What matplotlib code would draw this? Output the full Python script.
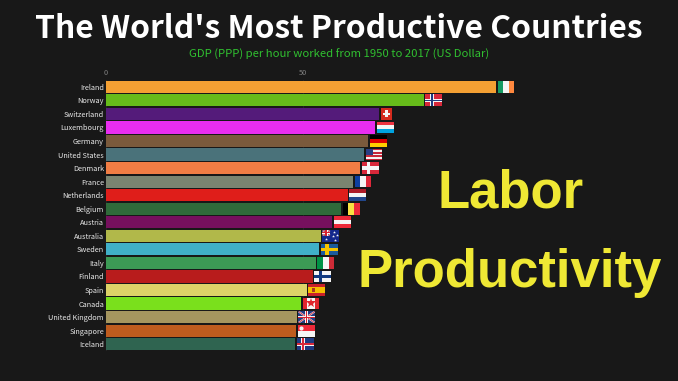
import numpy as np
import matplotlib
matplotlib.use('Agg')
import matplotlib.pyplot as plt
from matplotlib.patches import Rectangle, Polygon
from matplotlib.transforms import Affine2D

countries = ['Ireland', 'Norway', 'Switzerland', 'Luxembourg', 'Germany', 'United States',
             'Denmark', 'France', 'Netherlands', 'Belgium', 'Austria', 'Australia', 'Sweden',
             'Italy', 'Finland', 'Spain', 'Canada', 'United Kingdom', 'Singapore', 'Iceland']
values = [99.1, 80.8, 69.4, 68.4, 66.7, 65.6, 64.7, 62.8, 61.5, 59.8,
          57.5, 54.6, 54.2, 53.4, 52.6, 51.1, 49.6, 48.5, 48.4, 48.1]
colors = ['#F4A033', '#66BB1A', '#541B7A', '#E92DF0', '#7A5A3C', '#4A727A', '#F07D44',
          '#7A8470', '#DF1E1A', '#2F6B3A', '#76105E', '#B1B84A', '#40B0C8', '#3C9A55',
          '#B81C1C', '#DDD268', '#7AE01C', '#A5965F', '#BE5C1E', '#2F6450']
xticks = [0, 50]

BG = '#181818'
RED = '#D8202E'
BLUE = '#1F3A80'
WHITE = '#F5F5F5'
FONT = 'Noto Sans CJK SC'

# stripes of the simple flags: (h)orizontal or (v)ertical
stripes = {
    'Ireland': ('v', ['#169B62', WHITE, '#FF883E']),
    'Luxembourg': ('h', ['#EF3340', WHITE, '#00A3E0']),
    'Germany': ('h', ['#000000', '#DD0000', '#FFCE00']),
    'France': ('v', ['#0F3FA0', WHITE, '#E0283A']),
    'Netherlands': ('h', ['#AE1C28', WHITE, '#21468B']),
    'Belgium': ('v', ['#000000', '#FAE042', '#ED2939']),
    'Austria': ('h', ['#ED2939', WHITE, '#ED2939']),
    'Italy': ('v', ['#009246', WHITE, '#CE2B37']),
    'Singapore': ('h', ['#ED2939', WHITE]),
}
# nordic crosses: field, outer cross, inner cross
crosses = {
    'Norway': ('#D8283A', WHITE, '#1F3A80'),
    'Denmark': ('#D8283A', WHITE, WHITE),
    'Sweden': ('#1A5A9C', '#F5C400', '#F5C400'),
    'Finland': (WHITE, '#123A80', '#123A80'),
    'Iceland': ('#1F3A80', WHITE, '#D8283A'),
}


def union_jack(ax, tr, w=1.0, h=1.0):
    ax.add_patch(Rectangle((0, 0), w, h, fc=BLUE, ec='none', transform=tr, clip_on=False, zorder=3))
    for col, d in ((WHITE, 0.09), (RED, 0.04)):
        ax.add_patch(Polygon([(0, d), (d, 0), (w, h-d), (w-d, h)], fc=col, ec='none', transform=tr, clip_on=False, zorder=3))
        ax.add_patch(Polygon([(w-d, 0), (w, d), (d, h), (0, h-d)], fc=col, ec='none', transform=tr, clip_on=False, zorder=3))
    for col, t in ((WHITE, 0.17), (RED, 0.09)):
        ax.add_patch(Rectangle((w/2-t/2*h/w, 0), t*h/w, h, fc=col, ec='none', transform=tr, clip_on=False, zorder=3))
        ax.add_patch(Rectangle((0, h/2-t/2), w, t, fc=col, ec='none', transform=tr, clip_on=False, zorder=3))


def draw_flag(ax, name, x0, yc, w, h):
    tr = Affine2D().scale(w, h).translate(x0, yc-h/2) + ax.transData

    def rect(x, y, rw, rh, col):
        ax.add_patch(Rectangle((x, y), rw, rh, fc=col, ec='none', transform=tr, clip_on=False, zorder=3))

    if name in stripes:
        orient, cols = stripes[name]
        n = len(cols)
        for k, col in enumerate(cols):
            if orient == 'h':
                rect(0, k/n, 1, 1/n, col)
            else:
                rect(k/n, 0, 1/n, 1, col)
        if name == 'Singapore':
            ax.plot([0.22], [0.25], 'o', ms=2, color=WHITE, transform=tr, clip_on=False, zorder=4)
    elif name in crosses:
        field, outer, inner = crosses[name]
        rect(0, 0, 1, 1, field)
        rect(0.28, 0, 0.2, 1, outer)
        rect(0, 0.36, 1, 0.28, outer)
        rect(0.33, 0, 0.1, 1, inner)
        rect(0, 0.43, 1, 0.14, inner)
    elif name == 'Switzerland':
        rect(0, 0, 1, 1, '#D52B1E')
        rect(0.4, 0.2, 0.2, 0.6, WHITE)
        rect(0.2, 0.4, 0.6, 0.2, WHITE)
    elif name == 'United States':
        for k in range(7):
            rect(0, k/7, 1, 1/7, '#C8283C' if k % 2 == 0 else WHITE)
        rect(0, 0, 0.42, 4/7, '#2A3F85')
    elif name == 'United Kingdom':
        union_jack(ax, tr)
    elif name == 'Australia':
        rect(0, 0, 1, 1, '#14288C')
        union_jack(ax, tr, 0.48, 0.5)
        ax.plot([0.25, 0.72, 0.88, 0.62, 0.75], [0.75, 0.2, 0.4, 0.5, 0.82], '*', ms=2.2,
                color=WHITE, mew=0, transform=tr, clip_on=False, zorder=4)
    elif name == 'Canada':
        rect(0, 0, 1, 1, WHITE)
        rect(0, 0, 0.25, 1, '#E0262E')
        rect(0.75, 0, 0.25, 1, '#E0262E')
        ax.plot([0.5], [0.47], '*', ms=7, color='#E0262E', mew=0, transform=tr, clip_on=False, zorder=4)
    elif name == 'Spain':
        rect(0, 0, 1, 1, '#C8202A')
        rect(0, 0.25, 1, 0.5, '#F5BE00')
        rect(0.24, 0.36, 0.12, 0.3, '#A83A20')


fig = plt.figure(figsize=(6.78, 3.81), dpi=100, facecolor=BG)
# axes box from the pixel rows of the bars
ax = fig.add_axes([105.5/678, 1-351/381, (678-105.5)/678, (351-80)/381], facecolor='none')
n = len(countries)
ypos = np.arange(n)
ax.set_xlim(0, (678-105.5)/3.94)
ax.set_ylim(n-0.5, -0.5)
for x in xticks:
    ax.axvline(x, color='#2a2a2a', lw=0.5, zorder=0)
ax.barh(ypos, values, height=0.9, color=colors, edgecolor='none', zorder=2)
ax.set_yticks(ypos)
ax.set_yticklabels(countries, fontsize=5.3, color='#E8E8E8', family=FONT)
ax.set_xticks(xticks)
ax.set_xticklabels([str(x) for x in xticks], fontsize=5.3, color='#808080', family=FONT)
ax.xaxis.tick_top()
ax.tick_params(axis='y', length=0, pad=1)
ax.tick_params(axis='x', length=0, pad=2)
ax.set_xlim(0, (678-105.5)/3.94)
for s in ax.spines.values():
    s.set_visible(False)

for i, (name, v) in enumerate(zip(countries, values)):
    w = 3.0 if name == 'Switzerland' else 4.3
    draw_flag(ax, name, v+0.4, i, w, 0.86)

fig.text(339/678, 1-38/381, "The World's Most Productive Countries", ha='center', va='baseline',
         fontsize=22.9, fontweight='bold', color='#FFFFFF', family=FONT)
fig.text(339/678, 1-58/381, 'GDP (PPP) per hour worked from 1950 to 2017 (US Dollar)', ha='center', va='baseline',
         fontsize=8.15, color='#30C030', family=FONT)
fig.text(511/678, 1-207/381, 'Labor', ha='center', va='baseline', fontsize=38, fontweight='bold',
         color='#EFE834', family='Liberation Sans')
fig.text(510/678, 1-287/381, 'Productivity', ha='center', va='baseline', fontsize=38, fontweight='bold',
         color='#EFE834', family='Liberation Sans')

plt.savefig('out.png', dpi=100, facecolor=BG)
plt.close()
